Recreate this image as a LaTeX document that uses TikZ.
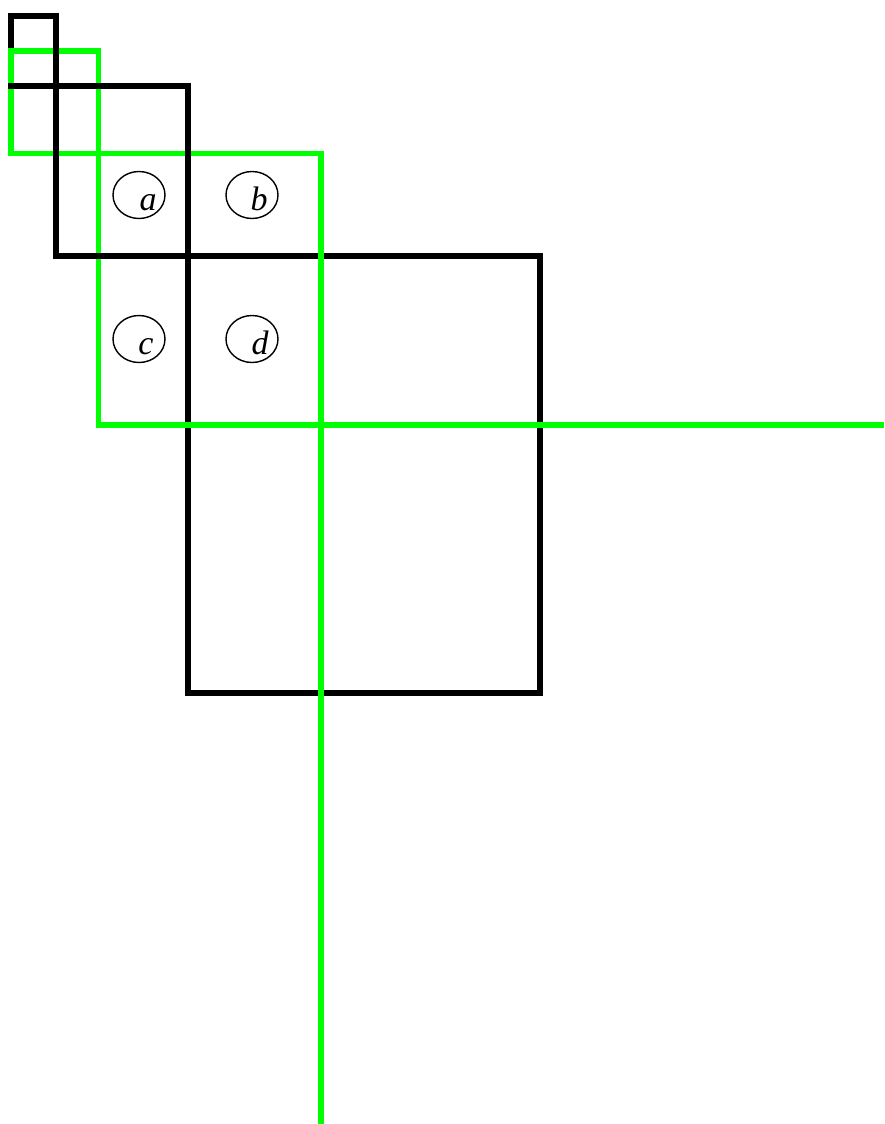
\documentclass[tikz,border=0pt]{standalone}
\usepackage{fontspec}
\setmainfont{Liberation Serif}
\usetikzlibrary{shapes.geometric, calc}

\begin{document}
\begin{tikzpicture}[x=1pt, y=-1pt]
    \tikzset{
      blackline/.style={draw=black, line width=5.5pt, line join=miter},
      greenline/.style={draw=green, line width=5.5pt, line join=miter},
      cellmark/.style={ellipse, draw=black, line width=1.4pt,
                       minimum width=52pt, minimum height=47pt, inner sep=0pt},
      celllabel/.style={anchor=base, inner sep=0pt,
                        font=\fontsize{34}{40}\selectfont\itshape}}
    \useasboundingbox (0,0) rectangle (884,1124);
    % green staircase (lower layer)
    \draw[greenline] (321,1124) -- (321,153.5) -- (11,153.5) -- (11,51)
                     -- (98.5,51) -- (98.5,425) -- (884,425);
    % black staircase
    \draw[blackline] (11,48.25) -- (11,16) -- (56,16) -- (56,256) -- (540,256)
                     -- (540,693) -- (188,693) -- (188,86) -- (8.25,86);
    % long green arms on top
    \draw[greenline] (321,1124) -- (321,153.5) -- (260,153.5);
    \draw[greenline] (98.5,300) -- (98.5,425) -- (884,425);
    % cell marks
    \node[cellmark] (ma) at (139,195) {};
    \node[cellmark] (mb) at (252,195) {};
    \node[cellmark] (mc) at (139,339) {};
    \node[cellmark] (md) at (252,339) {};
    \node[celllabel] (la) at ($(ma)+(9,15)$) {a};
    \node[celllabel] (lb) at ($(mb)+(7,15)$) {b};
    \node[celllabel] (lc) at ($(mc)+(7,15)$) {c};
    \node[celllabel] (ld) at ($(md)+(8,15)$) {d};
\end{tikzpicture}
\end{document}
